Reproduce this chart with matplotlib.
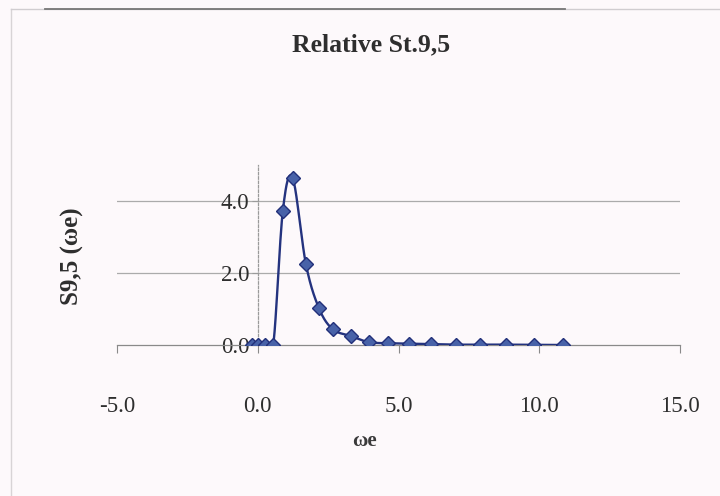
import numpy as np
import matplotlib.pyplot as plt
from matplotlib.lines import Line2D

# omega*e values and relative spectral ordinate S9,5
we = [-0.2, 0.0, 0.25, 0.55, 0.89, 1.24, 1.71, 2.17, 2.66, 3.30, 3.94,
      4.62, 5.36, 6.15, 7.03, 7.89, 8.81, 9.80, 10.83]
s95 = [0.0, 0.0, 0.0, 0.0, 3.72, 4.64, 2.25, 1.03, 0.44, 0.25, 0.08,
       0.05, 0.04, 0.03, 0.01, 0.01, 0.01, 0.005, 0.0]

x_ticks = [-5.0, 0.0, 5.0, 10.0, 15.0]
y_ticks = [0.0, 2.0, 4.0]


def smooth(xs, ys, n=20):
    # Catmull-Rom curve through the points, like a spreadsheet "smoothed line"
    p = np.column_stack([xs, ys])
    p = np.vstack([p[0], p, p[-1]])
    out = []
    for i in range(1, len(p) - 2):
        p0, p1, p2, p3 = p[i - 1], p[i], p[i + 1], p[i + 2]
        t = np.linspace(0, 1, n, endpoint=False)[:, None]
        seg = 0.5 * ((2 * p1) + (-p0 + p2) * t
                     + (2 * p0 - 5 * p1 + 4 * p2 - p3) * t ** 2
                     + (-p0 + 3 * p1 - 3 * p2 + p3) * t ** 3)
        out.append(seg)
    out.append(p[-2][None, :])
    out = np.vstack(out)
    return out[:, 0], out[:, 1]


plt.rcParams['font.family'] = ['Liberation Serif', 'DejaVu Serif']

bg = '#fdf9fb'
fig = plt.figure(figsize=(7.2, 4.96), dpi=100, facecolor=bg)
ax = fig.add_axes([117 / 720, 1 - 345 / 496, 563 / 720, 180 / 496])
ax.set_facecolor(bg)

ax.set_xlim(-5, 15)
ax.set_ylim(0, 5)

for y in y_ticks[1:]:
    ax.axhline(y, color='#ababab', lw=0.9, zorder=1)

sx, sy = smooth(we, s95)
ax.plot(sx, sy, color='#24337f', lw=1.7, zorder=3)
ax.plot(we, s95, ls='none', marker='D', ms=7, mfc='#4862a8', mec='#22307a',
        mew=1.0, zorder=4)

for side in ['top', 'right']:
    ax.spines[side].set_visible(False)
ax.spines['left'].set_position(('data', 0))
ax.spines['left'].set_color('#9a9a9a')
ax.spines['left'].set_linestyle((0, (2, 1.5)))
ax.spines['left'].set_linewidth(0.9)
ax.spines['bottom'].set_color('#8a8a8a')
ax.spines['bottom'].set_linewidth(0.9)

ax.set_xticks(x_ticks)
ax.set_xticklabels([f'{v:.1f}' for v in x_ticks])
ax.set_yticks(y_ticks)
ax.set_yticklabels([f'{v:.1f}' for v in y_ticks])
ax.tick_params(axis='x', length=6, color='#8a8a8a', pad=31, labelsize=16.5,
               labelcolor='#2e2e2e')
ax.tick_params(axis='y', length=4, color='#9a9a9a', pad=2, labelsize=16.5,
               labelcolor='#2e2e2e')

fig.text(371 / 720, 1 - 45 / 496, 'Relative St.9,5', ha='center', va='center',
         fontsize=18.5, fontweight='bold', color='#2e2e2e')
fig.text(364 / 720, 1 - 441 / 496, 'ωe', ha='center', va='center',
         fontsize=15, fontweight='bold', color='#3a3a3a')
fig.text(72 / 720, 1 - 256 / 496, 'S9,5 (ωe)', ha='center', va='center',
         rotation=90, fontsize=18, fontweight='bold', color='#2e2e2e')

# chart frame edges
fig.add_artist(Line2D([11 / 720, 11 / 720], [0, 1 - 9 / 496],
                      transform=fig.transFigure, color='#d8d4d6', lw=1.0))
fig.add_artist(Line2D([11 / 720, 1], [1 - 9 / 496, 1 - 9 / 496],
                      transform=fig.transFigure, color='#d0cdd0', lw=1.0))
fig.add_artist(Line2D([45 / 720, 565 / 720], [1 - 9 / 496, 1 - 9 / 496],
                      transform=fig.transFigure, color='#777777', lw=1.3))

fig.savefig('out.png', dpi=100, facecolor=bg)
